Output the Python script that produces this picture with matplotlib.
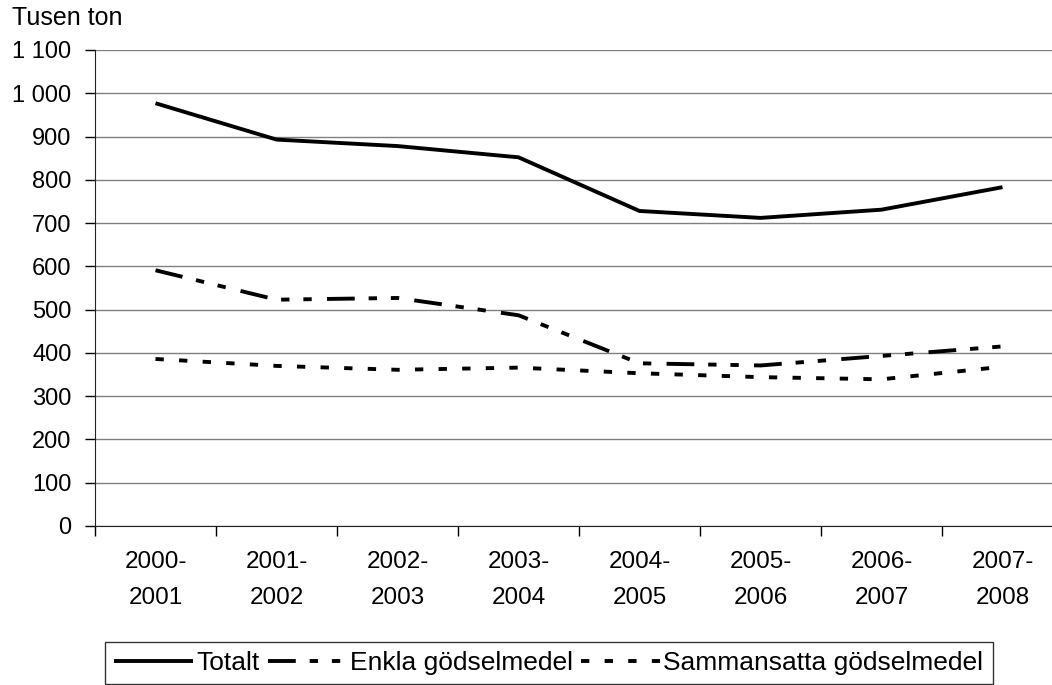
import matplotlib
matplotlib.use("Agg")
import matplotlib.pyplot as plt
from matplotlib.ticker import FuncFormatter, FixedLocator

# data (tusen ton)
seasons = ["2000-\n2001", "2001-\n2002", "2002-\n2003", "2003-\n2004",
           "2004-\n2005", "2005-\n2006", "2006-\n2007", "2007-\n2008"]
totalt = [977, 893, 878, 852, 728, 712, 731, 783]
enkla = [591, 523, 527, 487, 376, 371, 393, 415]
sammansatta = [386, 370, 361, 366, 353, 344, 339, 368]

plt.rcParams['font.family'] = ['Liberation Sans', 'DejaVu Sans']
plt.rcParams['lines.scale_dashes'] = False

fig = plt.figure(figsize=(10.52, 6.85), dpi=100)
ax = fig.add_axes([95/1052, 1-526/685, 968/1052, 476/685])

x = list(range(len(seasons)))
lw = 2.8
ax.plot(x, totalt, color='black', lw=lw, label='Totalt', solid_capstyle='butt')
l2, = ax.plot(x, enkla, color='black', lw=lw, label='Enkla gödselmedel')
l2.set_dashes([20, 10, 6, 10, 6, 11])
l3, = ax.plot(x, sammansatta, color='black', lw=lw, label='Sammansatta gödselmedel')
l3.set_dashes([6, 11])

ax.set_xlim(-0.5, 7.5)
ax.set_ylim(0, 1100)
ax.set_yticks(range(0, 1101, 100))
ax.yaxis.set_major_formatter(FuncFormatter(lambda v, p: f"{int(v):,}".replace(",", " ")))
ax.grid(axis='y', color='#808080', lw=1)
ax.set_axisbelow(True)

ax.set_xticks(x)
ax.set_xticklabels(seasons)
ax.xaxis.set_minor_locator(FixedLocator([i - 0.5 for i in range(len(seasons) + 1)]))
ax.tick_params(axis='x', which='major', length=0, pad=18, labelsize=17.5)
ax.tick_params(axis='x', which='minor', length=7, width=1, direction='out')
ax.tick_params(axis='y', length=7, width=1, pad=10, labelsize=17)
for lab in ax.get_xticklabels():
    lab.set_linespacing(1.8)

for s in ['top', 'right']:
    ax.spines[s].set_visible(False)
ax.spines['left'].set_color('#222222')
ax.spines['bottom'].set_color('#222222')

fig.text(12/1052, 1-18/685, "Tusen ton", fontsize=18, va='center', ha='left')

leg = fig.legend(loc='upper left', bbox_to_anchor=(105/1052, 1-642/685), ncol=3,
                 fontsize=19, frameon=True, fancybox=False, handlelength=3.0,
                 handletextpad=0.12, columnspacing=0.3, borderpad=0.35,
                 borderaxespad=0)
leg.get_frame().set_edgecolor('black')
leg.get_frame().set_linewidth(1)

fig.savefig("out.png", dpi=100)
